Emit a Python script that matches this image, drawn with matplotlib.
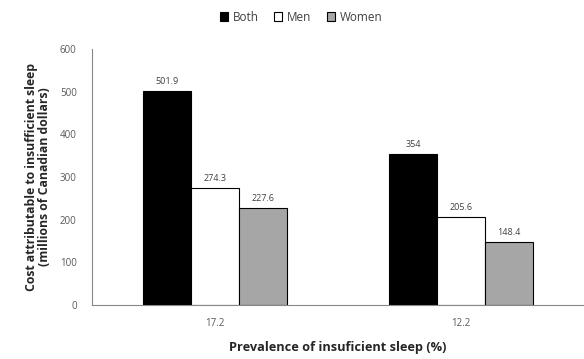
import matplotlib

matplotlib.use("Agg")
import matplotlib.pyplot as plt
import numpy as np

categories = ["17.2", "12.2"]
series_names = ["Both", "Men", "Women"]
both = [501.9, 354]
men = [274.3, 205.6]
women = [227.6, 148.4]
label_text = [["501.9", "354"], ["274.3", "205.6"], ["227.6", "148.4"]]

colors = ["#000000", "#ffffff", "#a6a6a6"]

plt.rcParams["font.family"] = ["Open Sans", "DejaVu Sans"]

fig = plt.figure(figsize=(5.84, 3.59), dpi=100)
ax = fig.add_axes([0.1575, 0.1504, 0.8425, 0.7131])

x = np.arange(len(categories))
width = 0.195
offsets = [-width, 0.0, width]
for values, offset, color, name, texts in zip(
    [both, men, women], offsets, colors, series_names, label_text
):
    bars = ax.bar(x + offset, values, width, color=color, edgecolor="#000000",
                  linewidth=0.8, label=name)
    for bar, txt in zip(bars, texts):
        ax.text(bar.get_x() + bar.get_width() / 2, bar.get_height() + 12, txt,
                ha="center", va="bottom", fontsize=6.5, color="#404040")

ax.set_xlim(-0.5, 1.5)
ax.set_ylim(0, 600)
ax.set_yticks(range(0, 601, 100))
ax.set_xticks(x)
ax.set_xticklabels(categories)
ax.tick_params(axis="both", labelsize=7, colors="#595959", length=0)
ax.tick_params(axis="y", pad=11)
ax.tick_params(axis="x", pad=9)
for side in ["top", "right"]:
    ax.spines[side].set_visible(False)
for side in ["left", "bottom"]:
    ax.spines[side].set_color("#888888")
    ax.spines[side].set_linewidth(0.8)

ax.set_ylabel("Cost attributable to insufficient sleep\n(millions of Canadian dollars)",
              fontsize=8.8, fontweight="bold", color="#262626", labelpad=6,
              linespacing=1.0)
ax.set_xlabel("Prevalence of insuficient sleep (%)", fontsize=9.2,
              fontweight="bold", color="#262626", labelpad=9)

ax.legend(loc="center", bbox_to_anchor=(0.425, 1.125), ncol=3, frameon=False,
          fontsize=8.5, handlelength=0.7, handleheight=0.7, handletextpad=0.4,
          columnspacing=1.3, labelcolor="#404040")

fig.savefig("out.png", dpi=100)
